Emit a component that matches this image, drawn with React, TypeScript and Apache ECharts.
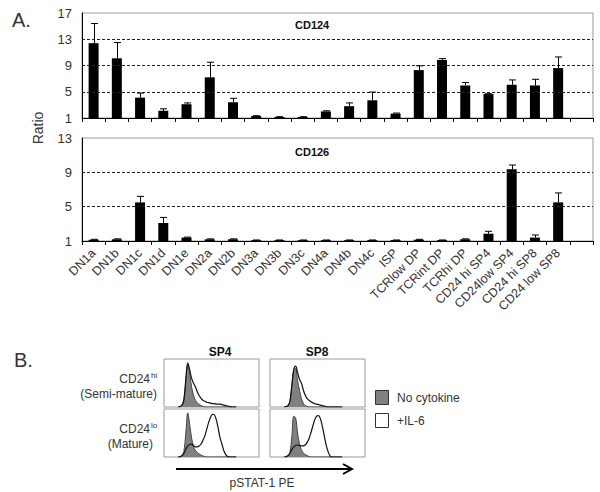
import React, { useEffect, useRef } from "react";
import * as echarts from "echarts";

const categories = [
  "DN1a", "DN1b", "DN1c", "DN1d", "DN1e", "DN2a", "DN2b", "DN3a", "DN3b", "DN3c",
  "DN4a", "DN4b", "DN4c", "ISP", "TCRlow DP", "TCRint DP", "TCRhi DP",
  "CD24 hi SP4", "CD24low SP4", "CD24 hi SP8", "CD24 low SP8", "",
];

const cd124 = [12.4, 10.1, 4.1, 2.1, 3.1, 7.2, 3.4, 1.3, 1.15, 1.15, 2.0, 2.8, 3.7, 1.66, 8.3, 9.85, 5.96, 4.65, 6.06, 5.96, 8.6, null];
const cd124Err = [15.4, 12.5, 4.8, 2.4, 3.3, 9.5, 4.0, 1.35, 1.2, 1.2, 2.1, 3.3, 4.95, 1.75, 8.95, 10.05, 6.4, 4.7, 6.8, 6.9, 10.3, null];

const cd126 = [1.15, 1.2, 5.5, 3.1, 1.4, 1.2, 1.2, 1.1, 1.1, 1.1, 1.1, 1.1, 1.1, 1.1, 1.15, 1.1, 1.2, 1.85, 9.35, 1.4, 5.5, null];
const cd126Err = [1.2, 1.25, 6.2, 3.75, 1.45, 1.25, 1.25, 1.12, 1.12, 1.12, 1.12, 1.12, 1.12, 1.12, 1.2, 1.12, 1.25, 2.13, 9.85, 1.7, 6.6, null];

const cd124GridLines = [5, 9, 13];
const cd126GridLines = [5, 9];

// Histogram bins (percent of pSTAT-1 PE axis) and heights (percent of panel)
const histBins = [15, 17, 19, 21, 23, 25, 27, 29, 31, 33, 35, 37, 39, 41, 43, 45, 47, 49, 51, 53, 55, 57, 59, 61, 63, 65, 67, 69, 72, 76];
const sp4HiNone = [0, 1, 4, 15, 55, 89, 70, 42, 25, 14, 9, 5, 3, 1, 0, 0, 0, 0, 0, 0, 0, 0, 0, 0, 0, 0, 0, 0, 0, 0];
const sp4HiIL6 = [0, 1, 4, 16, 58, 92, 78, 60, 50, 42, 32, 24, 18, 14, 12, 10, 9, 8, 7, 7, 6, 6, 6, 5, 4, 3, 2, 1, 0, 0];
const sp8HiNone = [0, 1, 3, 12, 45, 78, 80, 55, 35, 18, 8, 3, 1, 0, 0, 0, 0, 0, 0, 0, 0, 0, 0, 0, 0, 0, 0, 0, 0, 0];
const sp8HiIL6 = [0, 1, 3, 12, 45, 78, 85, 72, 58, 50, 36, 25, 18, 14, 11, 9, 7, 6, 5, 4, 3, 2, 1, 0, 0, 0, 0, 0, 0, 0];
const sp4LoNone = [0, 0, 2, 12, 50, 92, 68, 40, 22, 14, 9, 6, 4, 2, 1, 0, 0, 0, 0, 0, 0, 0, 0, 0, 0, 0, 0, 0, 0, 0];
const sp4LoIL6 = [0, 1, 3, 8, 16, 23, 26, 27, 24, 21, 21, 23, 27, 35, 44, 58, 72, 83, 89, 88, 78, 60, 40, 27, 13, 5, 1, 0, 0, 0];
const sp8LoNone = [0, 0, 2, 10, 42, 85, 82, 50, 28, 15, 9, 5, 3, 1, 0, 0, 0, 0, 0, 0, 0, 0, 0, 0, 0, 0, 0, 0, 0, 0];
const sp8LoIL6 = [0, 1, 3, 8, 15, 21, 24, 25, 24, 23, 23, 25, 30, 38, 50, 64, 77, 85, 86, 80, 65, 45, 26, 12, 3, 0, 0, 0, 0, 0];

const FONT = "Liberation Sans, Arial, sans-serif";

function errorSeries(vals: (number | null)[], errs: (number | null)[], idx: number) {
  return {
    type: "custom",
    xAxisIndex: idx,
    yAxisIndex: idx,
    encode: { x: 0, y: 1 },
    data: vals
      .map((v, i) => [i, v, errs[i]])
      .filter((d) => d[1] != null),
    renderItem: (_p: any, api: any) => {
      const i = api.value(0);
      const v = api.value(1);
      const e = api.value(2);
      const p0 = api.coord([i, v]);
      const p1 = api.coord([i, e]);
      const x = Math.round(p0[0]) + 0.5;
      return {
        type: "group",
        children: [
          { type: "line", shape: { x1: x, y1: p0[1], x2: x, y2: p1[1] }, style: { stroke: "#000", lineWidth: 1 } },
          { type: "line", shape: { x1: x - 3.5, y1: p1[1], x2: x + 3.5, y2: p1[1] }, style: { stroke: "#000", lineWidth: 1 } },
        ],
      };
    },
    z: 5,
  };
}

function barSeries(vals: (number | null)[], idx: number, lines: number[]) {
  return {
    type: "bar",
    xAxisIndex: idx,
    yAxisIndex: idx,
    data: vals,
    barWidth: 10,
    clip: true,
    itemStyle: { color: "#000" },
    markLine: {
      silent: true,
      symbol: "none",
      label: { show: false },
      lineStyle: { color: "#222", type: [3, 2], width: 1 },
      data: lines.map((v) => ({ yAxis: v })),
    },
  };
}

function histSeries(vals: number[], idx: number, filled: boolean) {
  return {
    type: "line",
    name: filled ? "No cytokine" : "+IL-6",
    xAxisIndex: idx,
    yAxisIndex: idx,
    data: histBins.map((x, i) => [x, vals[i]]),
    showSymbol: false,
    smooth: 0.35,
    lineStyle: filled ? { color: "#444", width: 1 } : { color: "#111", width: 1.2 },
    areaStyle: filled ? { color: "#808080", opacity: 1 } : undefined,
    z: filled ? 2 : 3,
  };
}

export default function App() {
  const ref = useRef<HTMLDivElement>(null);
  useEffect(() => {
    document.body.style.margin = "0";
    if (!ref.current) return;
    const chart = echarts.init(ref.current, undefined, { renderer: "svg" });

    const histGrids = [
      { left: 164, top: 359, width: 95, height: 48 },
      { left: 270, top: 359, width: 95, height: 48 },
      { left: 164, top: 409, width: 95, height: 48 },
      { left: 270, top: 409, width: 95, height: 48 },
    ];

    const catAxis = (idx: number, labels: boolean) => ({
      type: "category",
      gridIndex: idx,
      data: categories,
      boundaryGap: true,
      axisLine: { show: true, lineStyle: { color: "#000", width: 1 } },
      axisTick: { show: true, length: 4, alignWithLabel: false, interval: 0, lineStyle: { color: "#000" } },
      axisLabel: labels
        ? { show: true, interval: 0, rotate: 45, fontSize: 12.5, color: "#333", fontFamily: FONT, margin: 10 }
        : { show: false },
    });

    const valAxis = (idx: number, max: number) => ({
      type: "value",
      gridIndex: idx,
      min: 1,
      max,
      interval: 4,
      axisLine: { show: true, lineStyle: { color: "#000", width: 1 } },
      axisTick: { show: false },
      splitLine: { show: false },
      axisLabel: { fontSize: 13, color: "#333", fontFamily: FONT, margin: 10 },
    });

    const option: any = {
      animation: false,
      backgroundColor: "#fff",
      grid: [
        { left: 82, top: 13, width: 511, height: 105, show: true, borderColor: "#999", borderWidth: 1 },
        { left: 82, top: 138, width: 511, height: 103, show: true, borderColor: "#999", borderWidth: 1 },
        ...histGrids.map((g) => ({ ...g, show: true, borderColor: "#999", borderWidth: 1 })),
      ],
      xAxis: [
        catAxis(0, false),
        catAxis(1, true),
        ...histGrids.map((_, k) => ({ type: "value", gridIndex: k + 2, min: 0, max: 100, show: false })),
      ],
      yAxis: [
        valAxis(0, 17),
        valAxis(1, 13),
        ...histGrids.map((_, k) => ({ type: "value", gridIndex: k + 2, min: 0, max: 100, show: false })),
      ],
      series: [
        barSeries(cd124, 0, cd124GridLines),
        errorSeries(cd124, cd124Err, 0),
        barSeries(cd126, 1, cd126GridLines),
        errorSeries(cd126, cd126Err, 1),
        histSeries(sp4HiNone, 2, true),
        histSeries(sp4HiIL6, 2, false),
        histSeries(sp8HiNone, 3, true),
        histSeries(sp8HiIL6, 3, false),
        histSeries(sp4LoNone, 4, true),
        histSeries(sp4LoIL6, 4, false),
        histSeries(sp8LoNone, 5, true),
        histSeries(sp8LoIL6, 5, false),
      ],
      graphic: [
        { type: "text", left: 12, top: 10, style: { text: "A.", font: `20px ${FONT}`, fill: "#333" } },
        {
          type: "text", x: 38, y: 128, rotation: Math.PI / 2,
          style: { text: "Ratio", font: `14px ${FONT}`, fill: "#333", textAlign: "center", textVerticalAlign: "middle" },
        },
        { type: "text", x: 295, y: 25, style: { text: "CD124", font: `bold 11px ${FONT}`, fill: "#111", textVerticalAlign: "middle" } },
        { type: "text", x: 295, y: 152, style: { text: "CD126", font: `bold 11px ${FONT}`, fill: "#111", textVerticalAlign: "middle" } },
        { type: "text", left: 14, top: 350, style: { text: "B.", font: `20px ${FONT}`, fill: "#333" } },
        { type: "text", x: 220, y: 352, style: { text: "SP4", font: `bold 12px ${FONT}`, fill: "#111", textAlign: "center", textVerticalAlign: "middle" } },
        { type: "text", x: 317, y: 352, style: { text: "SP8", font: `bold 12px ${FONT}`, fill: "#111", textAlign: "center", textVerticalAlign: "middle" } },
        { type: "text", x: 150, y: 379, style: { text: "CD24", font: `12px ${FONT}`, fill: "#333", textAlign: "right", textVerticalAlign: "middle" } },
        { type: "text", x: 151, y: 375, style: { text: "hi", font: `8px ${FONT}`, fill: "#333", textAlign: "left", textVerticalAlign: "middle" } },
        { type: "text", x: 157, y: 394, style: { text: "(Semi-mature)", font: `12px ${FONT}`, fill: "#333", textAlign: "right", textVerticalAlign: "middle" } },
        { type: "text", x: 150, y: 429, style: { text: "CD24", font: `12px ${FONT}`, fill: "#333", textAlign: "right", textVerticalAlign: "middle" } },
        { type: "text", x: 151, y: 425, style: { text: "lo", font: `8px ${FONT}`, fill: "#333", textAlign: "left", textVerticalAlign: "middle" } },
        { type: "text", x: 153, y: 444, style: { text: "(Mature)", font: `12px ${FONT}`, fill: "#333", textAlign: "right", textVerticalAlign: "middle" } },
        { type: "rect", shape: { x: 375.5, y: 390.5, width: 13, height: 14 }, style: { fill: "#808080", stroke: "#333", lineWidth: 1 } },
        { type: "rect", shape: { x: 375.5, y: 413.5, width: 13, height: 14 }, style: { fill: "#fff", stroke: "#333", lineWidth: 1 } },
        { type: "text", x: 397, y: 398, style: { text: "No cytokine", font: `12px ${FONT}`, fill: "#333", textVerticalAlign: "middle" } },
        { type: "text", x: 397, y: 421, style: { text: "+IL-6", font: `12px ${FONT}`, fill: "#333", textVerticalAlign: "middle" } },
        { type: "line", shape: { x1: 176, y1: 469, x2: 351, y2: 469 }, style: { stroke: "#000", lineWidth: 2 } },
        { type: "polyline", shape: { points: [[343, 464], [352, 469], [343, 474]] }, style: { stroke: "#000", lineWidth: 2, fill: "none" } },
        { type: "text", x: 262, y: 483, style: { text: "pSTAT-1 PE", font: `12px ${FONT}`, fill: "#333", textAlign: "center", textVerticalAlign: "middle" } },
      ],
    };
    chart.setOption(option);
    return () => chart.dispose();
  }, []);
  return <div ref={ref} style={{ width: 600, height: 492 }} />;
}
